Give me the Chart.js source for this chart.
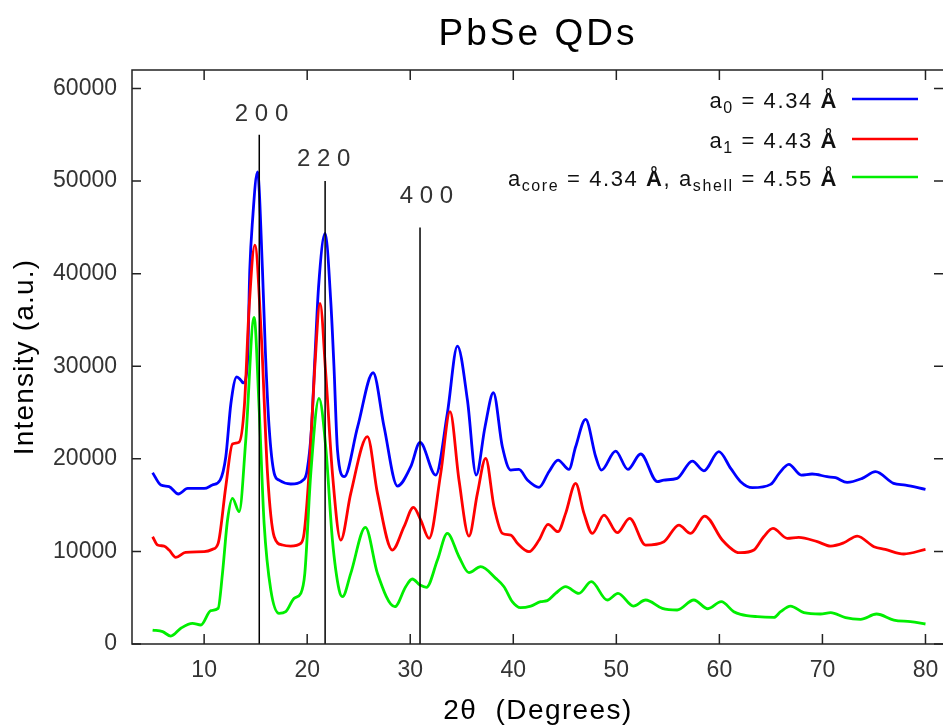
<!DOCTYPE html>
<html>
<head>
<meta charset="utf-8">
<script src="https://cdn.jsdelivr.net/npm/chart.js@4.4.1/dist/chart.umd.min.js"></script>
<style>
html, body { margin: 0; padding: 0; background: #fff; }
canvas { display: block; }
</style>
</head>
<body>
<canvas id="xrd" width="943" height="727"></canvas>
<script>
// a0 = 4.34 A
var blueX = [5.0, 5.8, 6.6, 7.5, 8.4, 10.0, 10.8, 11.55, 12.1, 12.6, 13.17, 13.56, 13.8, 14.2, 14.43, 14.7, 15.18, 15.66, 15.95, 16.3, 16.8, 17.27, 18.4, 19.7, 20.0, 20.4, 20.77, 21.1, 21.74, 22.3, 22.6, 22.94, 23.6, 24.9, 26.4, 27.46, 28.76, 30.05, 30.95, 32.47, 33.6, 34.58, 35.55, 36.4, 37.26, 38.07, 38.94, 39.75, 40.55, 41.37, 42.5, 43.46, 44.34, 45.4, 46.05, 47.02, 48.0, 48.55, 49.93, 51.12, 52.36, 53.98, 54.6, 55.9, 57.37, 58.5, 59.95, 61.1, 62.06, 63.2, 64.97, 65.8, 66.74, 67.94, 69.0, 70.46, 71.27, 72.4, 73.86, 75.15, 76.9, 78.06, 80.0];
var blueY = [18500, 17170, 17000, 16200, 16800, 16800, 17170, 17700, 20200, 26000, 28860, 28500, 28200, 30300, 40400, 45800, 51000, 40400, 31400, 23500, 18430, 17700, 17280, 17790, 18800, 23000, 31400, 38500, 44350, 36800, 29950, 20950, 18070, 23470, 29300, 23470, 17060, 19150, 21780, 18250, 24900, 32180, 26350, 18250, 23470, 27140, 21300, 18790, 18860, 17710, 16920, 18610, 19870, 18860, 21300, 24260, 20230, 18790, 20840, 18860, 20520, 17530, 17710, 17890, 19760, 18710, 20770, 18970, 17530, 16880, 17240, 18430, 19400, 18250, 18360, 18070, 17960, 17460, 17890, 18610, 17350, 17170, 16710];

// a1 = 4.43 A
var redX = [5.0, 5.48, 6.12, 6.6, 7.25, 8.2, 10.0, 10.8, 11.36, 12.1, 12.75, 13.4, 13.9, 14.37, 14.92, 15.57, 16.15, 16.8, 17.6, 18.4, 19.38, 19.7, 20.18, 20.74, 21.25, 21.8, 22.45, 23.26, 24.23, 25.85, 26.82, 28.27, 29.4, 30.31, 31.02, 31.83, 32.96, 33.86, 34.73, 35.7, 36.52, 37.32, 38.13, 38.94, 39.75, 40.4, 41.52, 42.5, 43.37, 44.34, 45.08, 46.05, 46.86, 47.67, 48.8, 50.1, 51.29, 52.84, 54.62, 56.07, 57.2, 58.57, 60.28, 61.57, 62.06, 63.35, 64.3, 65.2, 66.6, 67.7, 69.5, 70.8, 72.08, 73.38, 75.0, 76.1, 77.9, 80.0];
var redY = [11590, 10690, 10580, 10150, 9360, 9900, 9970, 10220, 10870, 16990, 21600, 21810, 25630, 36430, 43090, 32830, 18430, 11590, 10690, 10580, 10870, 11950, 18430, 29950, 36790, 29230, 18430, 11230, 16270, 22390, 16270, 10150, 12670, 14760, 13390, 11410, 18430, 25090, 17710, 11660, 16270, 20050, 14830, 11950, 11770, 10870, 9970, 11230, 12930, 12130, 14110, 17350, 14110, 11950, 13930, 12020, 13570, 10690, 11050, 12850, 11950, 13820, 11230, 9970, 9860, 10150, 11590, 12490, 11410, 11520, 11050, 10580, 10940, 11660, 10510, 10220, 9720, 10220];

// core/shell
var greenX = [5.0, 5.97, 6.77, 7.74, 8.87, 9.68, 10.65, 11.36, 11.78, 12.27, 12.75, 13.4, 14.04, 14.85, 15.33, 15.82, 16.47, 17.27, 17.92, 18.73, 19.38, 19.77, 20.35, 21.15, 21.8, 22.45, 23.1, 23.43, 24.23, 25.65, 26.82, 28.5, 29.56, 30.2, 30.95, 31.57, 32.64, 33.6, 34.73, 35.7, 36.84, 38.3, 39.1, 39.9, 40.7, 41.7, 42.66, 43.3, 44.1, 45.08, 46.37, 47.57, 49.12, 50.16, 51.65, 52.84, 54.46, 55.9, 57.52, 58.88, 60.18, 61.4, 62.06, 63.68, 65.3, 65.94, 66.9, 68.2, 69.8, 70.8, 72.24, 73.7, 75.25, 76.93, 78.54, 80.0];
var greenY = [1510, 1330, 860, 1700, 2230, 2050, 3600, 3850, 7630, 13390, 15730, 14290, 22030, 35280, 25630, 13030, 5830, 3310, 3490, 4930, 5470, 7630, 18430, 26530, 21300, 11230, 5830, 5110, 7630, 12600, 7630, 4030, 6190, 7020, 6370, 6120, 9070, 11950, 9430, 7700, 8350, 7090, 6190, 4570, 3920, 4100, 4570, 4680, 5470, 6190, 5470, 6730, 4750, 5470, 4100, 4750, 3850, 3670, 4750, 3810, 4570, 3490, 3200, 2950, 2880, 3490, 4100, 3380, 3240, 3380, 2840, 2670, 3240, 2590, 2410, 2160];

// reflections
var peakPos = [15.35, 21.74, 30.95];
var peakTop = [55000, 50000, 45000];
var peakNames = ['2 0 0', '2 2 0', '4 0 0'];
var peakLabelX = [15.57, 21.6, 31.57];
var peakLabelY = [57200, 52300, 48300];

var xTicks = [10, 20, 30, 40, 50, 60, 70, 80];
var yTicks = [0, 10000, 20000, 30000, 40000, 50000, 60000];

var FONT = "'Liberation Sans', Arial, sans-serif";

function pts(xs, ys) {
    return xs.map(function (x, i) { return { x: x, y: ys[i] }; });
}

function curve(label, xs, ys, color) {
    return {
        label: label,
        data: pts(xs, ys),
        borderColor: color,
        borderWidth: 2.8,
        pointRadius: 0,
        cubicInterpolationMode: 'monotone',
        fill: false
    };
}

var datasets = [];
for (var i = 0; i < peakPos.length; i++) {
    datasets.push({
        label: peakNames[i],
        data: [{ x: peakPos[i], y: 0 }, { x: peakPos[i], y: peakTop[i] }],
        borderColor: '#000',
        borderWidth: 1.5,
        pointRadius: 0,
        tension: 0
    });
}
datasets.push(curve('core/shell', greenX, greenY, '#00ee00'));
datasets.push(curve('a1', redX, redY, '#ff0000'));
datasets.push(curve('a0', blueX, blueY, '#0000ff'));

// legend rows, drawn right-aligned with subscripts
var legendRows = [
    { color: '#0000ff', parts: [{ t: 'a' }, { t: '0', sub: true }, { t: ' = 4.34 ' }, { t: 'Å', bold: true }] },
    { color: '#ff0000', parts: [{ t: 'a' }, { t: '1', sub: true }, { t: ' = 4.43 ' }, { t: 'Å', bold: true }] },
    { color: '#00ee00', parts: [{ t: 'a' }, { t: 'core', sub: true }, { t: ' = 4.34 ' }, { t: 'Å', bold: true },
        { t: ', a' }, { t: 'shell', sub: true }, { t: ' = 4.55 ' }, { t: 'Å', bold: true }] }
];

function partFont(p) {
    return (p.bold ? 'bold ' : '') + (p.sub ? '16px ' : '22px ') + FONT;
}

function drawRich(ctx, parts, right, base) {
    var widths = [], total = 0;
    parts.forEach(function (p) {
        ctx.font = partFont(p);
        var w = ctx.measureText(p.t).width;
        widths.push(w);
        total += w;
    });
    var x = right - total;
    parts.forEach(function (p, k) {
        ctx.font = partFont(p);
        ctx.fillText(p.t, x, base + (p.sub ? 5 : 0));
        x += widths[k];
    });
}

var decor = {
    id: 'decor',
    afterDraw: function (chart) {
        var ctx = chart.ctx, a = chart.chartArea;
        var sx = chart.scales.x, sy = chart.scales.y;
        ctx.save();

        // frame (right side runs off the picture)
        ctx.strokeStyle = '#222';
        ctx.lineWidth = 1.5;
        ctx.beginPath();
        ctx.moveTo(chart.width + 2, a.top);
        ctx.lineTo(a.left, a.top);
        ctx.lineTo(a.left, a.bottom);
        ctx.lineTo(chart.width + 2, a.bottom);
        ctx.stroke();

        // inward ticks on all sides
        ctx.beginPath();
        yTicks.forEach(function (v) {
            var y = sy.getPixelForValue(v);
            ctx.moveTo(a.left, y); ctx.lineTo(a.left + 9, y);
            ctx.moveTo(chart.width, y); ctx.lineTo(chart.width - 9, y);
        });
        xTicks.forEach(function (v) {
            var x = sx.getPixelForValue(v);
            ctx.moveTo(x, a.bottom); ctx.lineTo(x, a.bottom - 10);
            ctx.moveTo(x, a.top); ctx.lineTo(x, a.top + 10);
        });
        ctx.stroke();

        // reflection labels
        ctx.fillStyle = '#333';
        ctx.font = '24px ' + FONT;
        ctx.textAlign = 'center';
        ctx.textBaseline = 'middle';
        peakNames.forEach(function (n, k) {
            ctx.fillText(n, sx.getPixelForValue(peakLabelX[k]), sy.getPixelForValue(peakLabelY[k]));
        });

        // legend
        ctx.textAlign = 'left';
        ctx.textBaseline = 'alphabetic';
        ctx.letterSpacing = '1.6px';
        var bases = [108, 148, 186];
        legendRows.forEach(function (row, k) {
            ctx.fillStyle = '#111';
            drawRich(ctx, row.parts, 838, bases[k]);
            ctx.strokeStyle = row.color;
            ctx.lineWidth = 2.5;
            ctx.beginPath();
            ctx.moveTo(852, bases[k] - 9);
            ctx.lineTo(918, bases[k] - 9);
            ctx.stroke();
        });

        // title and axis titles
        ctx.fillStyle = '#000';
        ctx.textAlign = 'center';
        ctx.letterSpacing = '3px';
        ctx.font = '37px ' + FONT;
        ctx.fillText('PbSe QDs', 538, 45);

        ctx.letterSpacing = '1.4px';
        ctx.font = '28px ' + FONT;
        ctx.fillText('2θ  (Degrees)', 538, 719);

        ctx.letterSpacing = '1.2px';
        ctx.translate(33, 357);
        ctx.rotate(-Math.PI / 2);
        ctx.fillText('Intensity (a.u.)', 0, 0);
        ctx.restore();
    }
};

new Chart(document.getElementById('xrd').getContext('2d'), {
    type: 'line',
    data: { datasets: datasets },
    plugins: [decor],
    options: {
        responsive: false,
        animation: false,
        events: [],
        layout: { padding: { top: 70, left: 0, right: 0, bottom: 0 } },
        plugins: {
            legend: { display: false },
            title: { display: false },
            tooltip: { enabled: false }
        },
        scales: {
            x: {
                type: 'linear',
                min: 3,
                max: 81.7,
                grid: { display: false, drawTicks: false },
                border: { display: false },
                afterBuildTicks: function (s) { s.ticks = xTicks.map(function (v) { return { value: v }; }); },
                afterFit: function (s) { s.height = 83; s.paddingLeft = 0; s.paddingRight = 0; },
                ticks: {
                    font: { family: FONT, size: 23 },
                    color: '#333',
                    padding: 13,
                    maxRotation: 0,
                    autoSkip: false
                }
            },
            y: {
                type: 'linear',
                min: 0,
                max: 62000,
                grid: { display: false, drawTicks: false },
                border: { display: false },
                afterBuildTicks: function (s) { s.ticks = yTicks.map(function (v) { return { value: v }; }); },
                afterFit: function (s) { s.width = 132; s.paddingTop = 0; s.paddingBottom = 0; },
                ticks: {
                    font: { family: FONT, size: 23 },
                    color: '#333',
                    padding: 15,
                    callback: function (v) { return String(v); }
                }
            }
        }
    }
});
</script>
</body>
</html>
